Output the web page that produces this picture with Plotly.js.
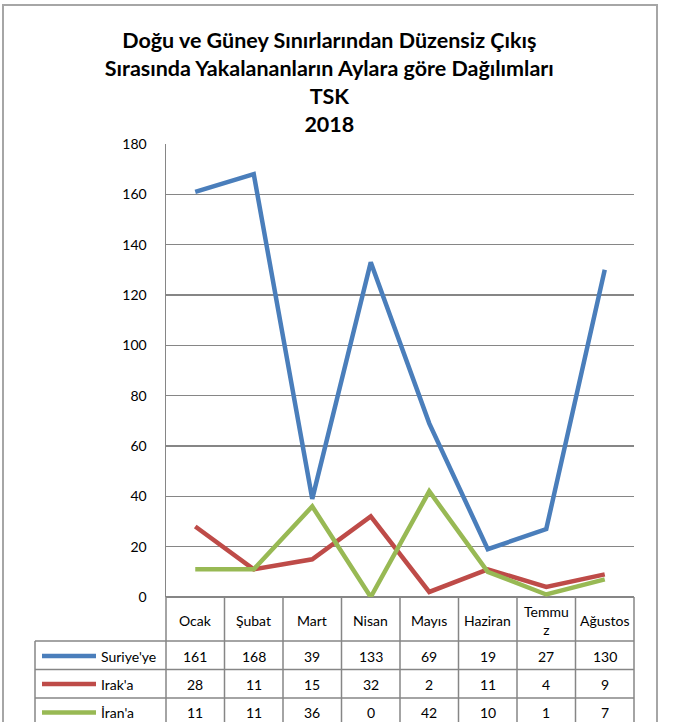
<!DOCTYPE html>
<html>
<head>
<meta charset="utf-8">
<script src="https://cdn.plot.ly/plotly-3.0.1.min.js"></script>
<style>html,body{margin:0;padding:0;background:#fff;}#chart{width:676px;height:722px;}</style>
</head>
<body>
<div id="chart"></div>
<script>
// ---- data ----
const months = ["Ocak", "Şubat", "Mart", "Nisan", "Mayıs", "Haziran", "Temmu<br>z", "Ağustos"];
const seriesNames = ["Suriye'ye", "Irak'a", "İran'a"];
const suriye = [161, 168, 39, 133, 69, 19, 27, 130];
const irak = [28, 11, 15, 32, 2, 11, 4, 9];
const iran = [11, 11, 36, 0, 42, 10, 1, 7];
const yTicks = [0, 20, 40, 60, 80, 100, 120, 140, 160, 180];
const titleText = "Doğu ve Güney Sınırlarından Düzensiz Çıkış<br>Sırasında Yakalananların Aylara göre Dağılımları<br>TSK<br>2018";

// ---- styling ----
const seriesValues = [suriye, irak, iran];
const colors = ["#4A7EBB", "#BE4B48", "#98B954"];
const FONT = "Lato, 'Open Sans', sans-serif";
const GRID = "#868686";
const W = 676, H = 722;
const M = {l: 166, r: 42, t: 144, b: 125};
const plotH = H - M.t - M.b;
const plotW = W - M.l - M.r;
const py = p => (H - M.b - p) / plotH;   // pixel y -> paper y
const px = p => (p - M.l) / plotW;       // pixel x -> paper x

const idx = months.map((_, i) => i);
const traces = seriesValues.map((vals, s) => ({
  type: "scatter", mode: "lines",
  x: idx, y: vals, name: seriesNames[s],
  line: {color: colors[s], width: 4.5},
  showlegend: false, hoverinfo: "x+y+name"
}));

const shapes = [];
const annotations = [];
const lineStyle = {color: GRID, width: 1.5};
const tableBottom = py(735);
const rowLines = [py(641), py(669.5), py(698)];
const rowCenters = [py(656), py(684), py(712.5)];
const n = months.length;

// outer chart border
shapes.push({type: "rect", xref: "paper", yref: "paper", x0: px(3), x1: px(657), y0: py(5), y1: py(740),
  line: {color: "#A6A6A6", width: 2}, fillcolor: "rgba(0,0,0,0)", layer: "below"});
// column separators (table)
for (let k = 0; k <= n; k++) {
  shapes.push({type: "line", xref: "paper", yref: "paper", x0: k / n, x1: k / n, y0: 0, y1: tableBottom, line: lineStyle});
}
// horizontal table lines
rowLines.forEach(y => shapes.push({type: "line", xref: "paper", yref: "paper", x0: px(35), x1: 1, y0: y, y1: y, line: lineStyle}));
// left table border
shapes.push({type: "line", xref: "paper", yref: "paper", x0: px(35), x1: px(35), y0: rowLines[0], y1: tableBottom, line: lineStyle});

// header row: month names
months.forEach((m, i) => annotations.push({
  xref: "x", yref: "paper", x: i, y: py(620), text: m, showarrow: false,
  xanchor: "center", yanchor: "middle", font: {family: FONT, size: 14, color: "#000"}
}));
// data rows with legend keys
seriesValues.forEach((vals, s) => {
  shapes.push({type: "line", xref: "paper", yref: "paper", x0: px(42), x1: px(96), y0: rowCenters[s], y1: rowCenters[s],
    line: {color: colors[s], width: 4.5}});
  annotations.push({xref: "paper", yref: "paper", x: px(99), y: rowCenters[s], text: seriesNames[s], showarrow: false,
    xanchor: "left", yanchor: "middle", font: {family: FONT, size: 14, color: "#000"}});
  vals.forEach((v, i) => annotations.push({
    xref: "x", yref: "paper", x: i, y: rowCenters[s], text: String(v), showarrow: false,
    xanchor: "center", yanchor: "middle", font: {family: FONT, size: 14, color: "#000"}
  }));
});

const layout = {
  width: W, height: H,
  margin: M,
  paper_bgcolor: "#fff", plot_bgcolor: "#fff",
  font: {family: FONT, color: "#000"},
  title: {text: "<b>" + titleText + "</b>", xref: "paper", x: 0.349, xanchor: "center",
    yref: "container", y: 1 - 48 / H, yanchor: "top",
    font: {family: FONT, size: 21.5, color: "#000"}},
  xaxis: {type: "linear", range: [-0.5, n - 0.5], showgrid: false, zeroline: false,
    showticklabels: false, ticks: "", showline: false, fixedrange: true},
  yaxis: {range: [0, 180], tickvals: yTicks, ticktext: yTicks.map(String), showgrid: true, gridcolor: GRID, gridwidth: 1.5,
    zeroline: true, zerolinecolor: GRID, zerolinewidth: 1.5,
    showline: true, linecolor: GRID, linewidth: 1.5, ticks: "", ticklabelstandoff: 15,
    tickfont: {family: FONT, size: 14, color: "#000"}, fixedrange: true},
  shapes: shapes,
  annotations: annotations,
  showlegend: false
};

Plotly.newPlot("chart", traces, layout, {displayModeBar: false, staticPlot: true});
</script>
</body>
</html>
